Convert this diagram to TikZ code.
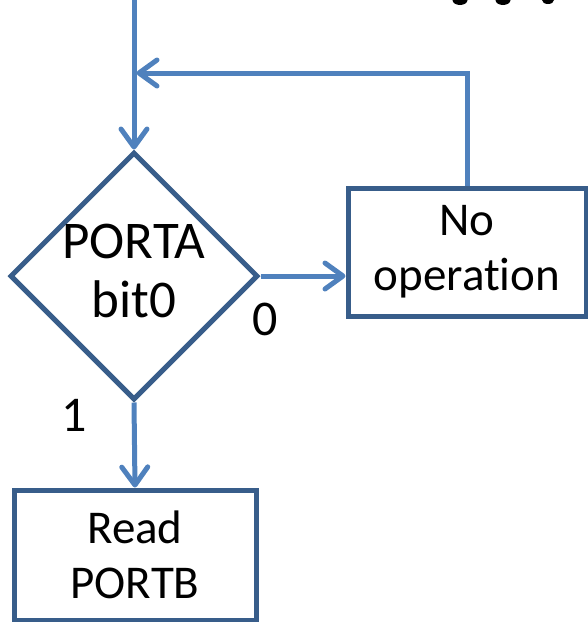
\documentclass[tikz,border=0pt]{standalone}
\usepackage{fontspec}
\setmainfont{Carlito}[Ligatures={NoCommon},Contextuals={NoAlternate}]
\usetikzlibrary{shapes.geometric,arrows.meta}
\definecolor{boxblue}{RGB}{56,93,138}
\definecolor{arrowblue}{RGB}{79,129,189}
\begin{document}
\begin{tikzpicture}[x=1pt,y=-1pt,
    box/.style={draw=boxblue,line width=5pt,rectangle,inner sep=0pt,align=center,
        font=\fontsize{47}{55}\selectfont},
    decision/.style={draw=boxblue,line width=5pt,diamond,aspect=1,inner sep=0pt,
        minimum width=248pt,minimum height=248pt,align=center,
        font=\fontsize{53}{59}\selectfont},
    flow/.style={draw=arrowblue,line width=5pt,
        -{Straight Barb[length=18pt,width=26pt,line cap=round,line join=round]}},
    label/.style={font=\fontsize{50}{56}\selectfont,inner sep=0pt}]
    \useasboundingbox (0,0) rectangle (588,622);

    % cut-off title at the top
    \fill (460,0) ellipse (7.5 and 5) (503,0) ellipse (7.5 and 5) (548,0) ellipse (6 and 4);

    \node[decision,text depth=10pt] (porta) at (134,276) {PORTA\\bit0};
    \node[box,minimum width=238pt,minimum height=128pt] (noop) at (467,252) {No\\operation};
    \node[box,minimum width=242pt,minimum height=130pt] (readb) at (135,555) {Read\\PORTB};

    \coordinate (entry) at (134,0);
    \coordinate (back) at (noop.north |- 0,73);
    \coordinate (join) at (134,73);

    \draw[flow] (entry) -- (porta.north);
    \draw[flow] (porta.east) -- (porta.east -| noop.west);
    \draw[flow] (porta.south) -- (readb.north);
    \draw[flow,shorten >=2.5pt] (noop.north) -- (back) -- (join);

    \node[label] (zero) at (265,319) {0};
    \node[label] (one) at (74,415) {1};
\end{tikzpicture}
\end{document}
